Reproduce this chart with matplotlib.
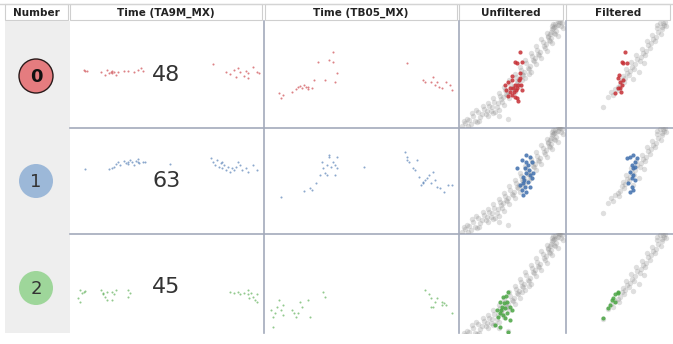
import matplotlib.pyplot as plt
from matplotlib.patches import Rectangle, Circle

W, H = 673, 344

headers = ['Number', 'Time (TA9M_MX)', 'Time (TB05_MX)', 'Unfiltered', 'Filtered']
numbers = ['0', '1', '2']
counts = [48, 63, 45]
dot_colors = ['#c62f35', '#3f6fad', '#4aa543']
badge_colors = ['#e57c7f', '#9cb8d8', '#9ed69a']

# time series, TA9M_MX (x = time, y = value, both in % of panel)
ta9m_x0 = [7, 8, 9, 16, 18, 19, 20, 21, 22, 22, 23, 24, 25, 28, 30, 33, 35, 37, 38,
           74, 81, 83, 85, 86, 87, 88, 90, 91, 92, 92, 95, 97, 98]
ta9m_y0 = [54, 53, 53, 52, 49, 54, 51, 52, 53, 51, 52, 49, 52, 53, 53, 52, 54, 56, 53,
           59, 52, 50, 54, 47, 56, 52, 48, 53, 46, 51, 57, 52, 51]
ta9m_x1 = [8, 20, 22, 23, 24, 25, 26, 28, 29, 30, 30, 31, 32, 33, 34, 35, 35, 36, 38, 39, 52,
           73, 74, 75, 76, 77, 78, 79, 79, 80, 81, 82, 83, 84, 85, 86, 87, 88, 89, 91, 92, 95, 97]
ta9m_y1 = [60, 60, 61, 62, 65, 67, 64, 68, 66, 67, 65, 69, 67, 64, 68, 70, 67, 66, 67, 67, 65,
           71, 67, 64, 69, 62, 66, 61, 67, 64, 59, 62, 58, 61, 59, 62, 67, 64, 59, 61, 58, 64, 59]
ta9m_x2 = [5, 6, 7, 8, 4, 5, 16, 17, 17, 18, 19, 19, 22, 23, 22, 24, 30, 31, 30,
           83, 85, 87, 88, 90, 92, 92, 93, 94, 95, 96, 97, 97]
ta9m_y2 = [46, 43, 44, 45, 39, 35, 46, 42, 43, 40, 37, 44, 44, 42, 37, 46, 46, 43, 40,
           44, 43, 44, 42, 43, 42, 46, 39, 43, 40, 37, 42, 35]

# time series, TB05_MX
tb05_x0 = [8, 9, 10, 15, 17, 18, 19, 20, 21, 22, 23, 23, 25, 26, 28, 32, 34, 36, 36, 37, 38,
           74, 82, 83, 86, 87, 88, 89, 90, 92, 94, 96, 97]
tb05_y0 = [32, 27, 30, 33, 36, 38, 39, 37, 40, 38, 36, 38, 37, 44, 61, 44, 63, 71, 61, 42, 51,
           60, 44, 42, 42, 47, 40, 42, 38, 37, 42, 40, 35]
tb05_x1 = [9, 21, 24, 25, 27, 29, 30, 31, 32, 33, 33, 34, 35, 36, 37, 38, 34, 38, 37, 52,
           73, 74, 74, 75, 77, 78, 79, 80, 81, 82, 82, 83, 84, 85, 86, 87, 88, 89, 91, 93, 95, 97]
tb05_y1 = [34, 40, 42, 41, 47, 55, 67, 61, 57, 55, 64, 72, 62, 67, 64, 61, 74, 72, 55, 62,
           76, 72, 69, 67, 61, 59, 69, 53, 45, 48, 47, 50, 52, 55, 47, 58, 50, 43, 42, 39, 45, 45]
tb05_x2 = [4, 5, 5, 6, 7, 8, 9, 10, 10, 15, 16, 17, 18, 19, 20, 23, 24, 31, 32,
           83, 85, 86, 87, 88, 89, 92, 92, 93, 94, 97, 86]
tb05_y2 = [27, 21, 11, 25, 30, 37, 27, 23, 32, 27, 25, 21, 25, 35, 30, 37, 21, 44, 40,
           46, 42, 39, 30, 35, 39, 35, 32, 34, 32, 25, 30]

# scatter background (all points / filtered points)
all_x = [4, 7, 9, 10, 12, 8, 14, 16, 13, 18, 19, 21, 22, 17, 24, 26, 27, 23, 28,
         29, 31, 32, 28, 33, 34, 36, 37, 33, 38, 39, 41, 42, 38, 43, 40,
         44, 46, 47, 43, 48, 45, 49, 51, 52, 48, 53, 50, 54, 56, 57, 53, 58, 55,
         59, 61, 62, 58, 63, 60, 64, 66, 67, 63, 68, 65, 69, 71, 72, 68, 73, 70,
         74, 76, 77, 73, 78, 75, 79, 81, 82, 78, 83, 80, 84, 86, 87, 83, 88, 85,
         89, 91, 92, 88, 93, 90, 94, 96, 97, 93, 98, 47, 38,
         86, 88, 90, 91, 93, 95, 84, 87, 92, 89, 6, 20, 35, 60, 66]
all_y = [1, 4, 1, 7, 3, 8, 10, 6, 13, 5, 14, 9, 12, 16, 17, 12, 15, 20, 10,
         20, 15, 19, 23, 13, 24, 19, 23, 27, 16, 29, 24, 28, 32, 21, 26,
         35, 30, 33, 38, 27, 31, 41, 36, 39, 44, 33, 37, 47, 42, 45, 50, 39, 43,
         54, 49, 52, 57, 46, 50, 60, 55, 58, 63, 52, 56, 67, 62, 65, 70, 59, 63,
         73, 68, 71, 76, 65, 69, 80, 75, 78, 83, 72, 76, 86, 81, 84, 89, 79, 82,
         93, 88, 91, 95, 86, 89, 99, 95, 98, 100, 93, 8, 10,
         88, 92, 94, 97, 96, 99, 85, 90, 95, 97, 6, 6, 14, 44, 50]
filt_x = [36, 41, 44, 46, 48, 50, 52, 51, 54, 56, 57, 55, 59, 61, 62, 58, 64, 66, 67, 63,
          69, 71, 72, 68, 74, 76, 77, 73, 79, 81, 82, 78, 84, 86, 87, 83, 89, 91, 92, 88,
          94, 96, 95, 93, 65, 70, 75, 88, 90, 92]
filt_y = [19, 28, 33, 30, 36, 38, 40, 35, 44, 42, 46, 48, 51, 49, 53, 55, 57, 55, 59, 61,
          64, 62, 66, 68, 70, 68, 72, 74, 77, 75, 79, 81, 83, 81, 85, 87, 90, 88, 92, 93,
          96, 95, 99, 98, 45, 52, 60, 96, 98, 94]

# highlighted cluster members
unf_x0 = [58, 53, 55, 60, 58, 44, 47, 49, 50, 51, 53, 54, 56, 49, 50, 52, 55, 57, 59, 45,
          47, 53, 55, 56, 60, 58, 50]
unf_y0 = [71, 61, 60, 61, 51, 40, 42, 37, 44, 37, 40, 35, 40, 33, 30, 33, 37, 44, 40, 35,
          29, 28, 27, 25, 35, 46, 48]
unf_x1 = [55, 60, 64, 67, 69, 65, 63, 64, 61, 67, 69, 65, 61, 58, 63, 60, 64, 61, 67, 70,
          64, 66, 62]
unf_y1 = [61, 69, 74, 72, 67, 64, 61, 57, 53, 55, 52, 48, 47, 45, 43, 41, 39, 36, 43, 57,
          67, 59, 50]
unf_x2 = [47, 42, 39, 46, 41, 44, 49, 36, 39, 42, 46, 50, 37, 44, 49, 35, 39, 47, 43, 45, 40]
unf_y2 = [44, 40, 35, 35, 30, 29, 30, 27, 25, 23, 25, 27, 21, 20, 18, 13, 11, 7, 34, 41, 27]

fil_x0 = [57, 54, 55, 59, 50, 52, 54, 55, 50, 52, 48, 51, 53]
fil_y0 = [71, 61, 60, 60, 46, 42, 40, 44, 37, 37, 32, 49, 33]
fil_x1 = [59, 62, 65, 69, 67, 64, 65, 67, 62, 65, 64, 67, 60, 64, 65, 62]
fil_y1 = [71, 72, 74, 71, 67, 64, 61, 62, 58, 55, 52, 50, 47, 43, 41, 39]
fil_x2 = [50, 48, 50, 45, 48, 43, 41, 46, 36]
fil_y2 = [44, 42, 43, 37, 35, 32, 29, 39, 20]

ta9m = [(ta9m_x0, ta9m_y0), (ta9m_x1, ta9m_y1), (ta9m_x2, ta9m_y2)]
tb05 = [(tb05_x0, tb05_y0), (tb05_x1, tb05_y1), (tb05_x2, tb05_y2)]
unf = [(unf_x0, unf_y0), (unf_x1, unf_y1), (unf_x2, unf_y2)]
fil = [(fil_x0, fil_y0), (fil_x1, fil_y1), (fil_x2, fil_y2)]

fig = plt.figure(figsize=(W / 100, H / 100), dpi=100)

# background layer in pixel coordinates
bg = fig.add_axes([0, 0, 1, 1])
bg.set_xlim(0, W)
bg.set_ylim(H, 0)
bg.axis('off')

line_col = '#a3aabb'
bg.plot([0, W], [3.5, 3.5], color='#d4d4d4', lw=1)
head_x = [5, 70, 265, 459, 566]
head_w = [63, 192, 192, 104, 104]
for hx, hw, label in zip(head_x, head_w, headers):
    bg.add_patch(Rectangle((hx, 4), hw, 16, fc='white', ec='#cfcfcf', lw=0.8))
    bg.text(hx + hw / 2, 12.5, label, ha='center', va='center',
            fontsize=7.5, fontweight='bold', color='#222222')

bg.add_patch(Rectangle((5, 21), 65, 312, fc='#eeeeee', ec='none'))
for x in [263.5, 458.5, 565.5]:
    bg.plot([x, x], [21, 333], color=line_col, lw=1.2)
for y in [127.5, 233.5]:
    bg.plot([70, W], [y, y], color=line_col, lw=1.2)

row_y = [21, 127, 233]
row_h = [106, 106, 100]
badge_y = [76, 181, 288]
for i in range(3):
    edge = '#2a1a1a' if i == 0 else 'none'
    bg.add_patch(Circle((36, badge_y[i]), 17, fc=badge_colors[i], ec=edge, lw=1))
    bg.text(36, badge_y[i] + 1, numbers[i], ha='center', va='center', fontsize=13,
            fontweight='bold' if i == 0 else 'normal',
            color='#111111' if i == 0 else '#333333')


def cell(x, y, w, h):
    ax = fig.add_axes([x / W, 1 - (y + h) / H, w / W, h / H])
    ax.set_xlim(0, 100)
    ax.set_ylim(100 - 100 * h / 106, 100)
    ax.axis('off')
    return ax


for i in range(3):
    y0, h = row_y[i], row_h[i]
    c = dot_colors[i]

    ax = cell(70, y0, 193, h)
    ax.scatter(*ta9m[i], s=2.2, color=c, alpha=0.6, lw=0)
    ax.text(50, 49, str(counts[i]), ha='center', va='center', fontsize=16, color='#333333')

    ax = cell(263, y0, 195, h)
    ax.scatter(*tb05[i], s=2.2, color=c, alpha=0.6, lw=0)

    ax = cell(458, y0, 107, h)
    ax.scatter(all_x, all_y, s=15, color='#8c8c8c', alpha=0.28, lw=0)
    ax.scatter(*unf[i], s=9, color=c, alpha=0.85, lw=0)

    ax = cell(565, y0, 105, h)
    ax.scatter(filt_x, filt_y, s=15, color='#8c8c8c', alpha=0.28, lw=0)
    ax.scatter(*fil[i], s=9, color=c, alpha=0.85, lw=0)

fig.savefig('out.png', dpi=100)
